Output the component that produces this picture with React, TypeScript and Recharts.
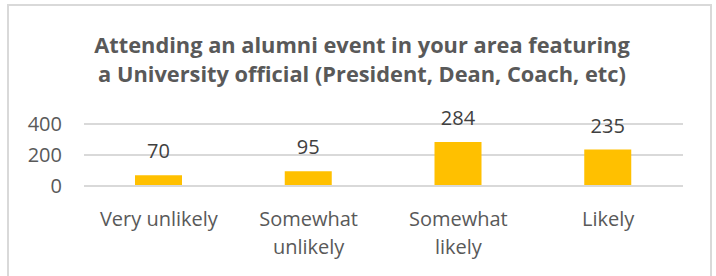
import { BarChart, Bar, XAxis, YAxis, CartesianGrid, LabelList } from 'recharts'

const categories = ['Very unlikely', 'Somewhat unlikely', 'Somewhat likely', 'Likely']
const counts = [70, 95, 284, 235]
const yTicks = [0, 200, 400]
const titleLines = [
  'Attending an alumni event in your area featuring',
  'a University official (President, Dean, Coach, etc)',
]

const data = categories.map((name, i) => ({ name, value: counts[i] }))

const FONT = '"Open Sans", "Liberation Sans", sans-serif'
const TEXT = '#595959'

// break long category names onto two lines, like the original
function CategoryTick(props: any) {
  const { x, y, payload } = props
  const label: string = payload.value
  const cut = label.indexOf(' ')
  const lines = label.length > 13 ? [label.slice(0, cut), label.slice(cut + 1)] : [label]
  return (
    <text x={x} y={y} textAnchor="middle" fill={TEXT} fontSize={20} fontFamily={FONT}>
      {lines.map((l, i) => (
        <tspan key={i} x={x} dy={i === 0 ? 32 : 28}>{l}</tspan>
      ))}
    </text>
  )
}

export default function App() {
  return (
    <div style={{ position: 'fixed', left: 0, top: 0, width: 716, height: 276, background: '#fff', overflow: 'hidden' }}>
      <div
        style={{
          position: 'absolute', left: 7, top: 4, width: 705, height: 290,
          border: '2px solid #d9d9d9', boxSizing: 'border-box',
        }}
      />
      <div
        style={{
          position: 'absolute', left: 0, top: 31, width: 724, textAlign: 'center',
          fontFamily: FONT, fontWeight: 700, fontSize: 21.8, lineHeight: '28.5px', color: TEXT,
        }}
      >
        {titleLines.map((t) => <div key={t}>{t}</div>)}
      </div>
      <div style={{ position: 'absolute', left: 0, top: 0 }}>
        <BarChart
          width={716}
          height={276}
          data={data}
          margin={{ top: 124, right: 33, bottom: 0, left: 24 }}
          barCategoryGap="34%"
        >
          <CartesianGrid vertical={false} stroke="#d9d9d9" strokeWidth={2} />
          <XAxis
            dataKey="name"
            axisLine={{ stroke: '#d9d9d9', strokeWidth: 2 }}
            tickLine={false}
            tick={<CategoryTick />}
            interval={0}
            height={90}
          />
          <YAxis
            domain={[0, 400]}
            ticks={yTicks}
            width={60}
            axisLine={false}
            tickLine={false}
            tickMargin={16}
            tick={{ fill: TEXT, fontSize: 20, fontFamily: FONT }}
          />
          <Bar dataKey="value" fill="#ffc000" barSize={47} isAnimationActive={false}>
            <LabelList dataKey="value" position="top" offset={17} fill="#404040" fontSize={20} fontFamily={FONT} />
          </Bar>
        </BarChart>
      </div>
    </div>
  )
}
